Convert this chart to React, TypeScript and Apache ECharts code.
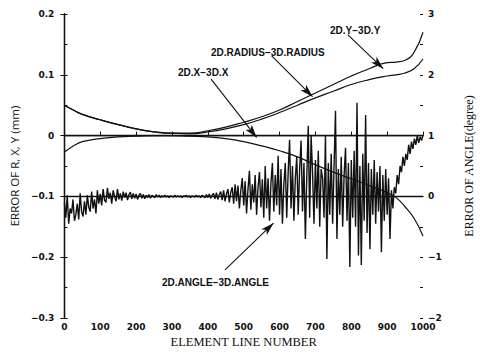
import React, { useEffect, useRef } from "react";
import * as echarts from "echarts";

// Element line numbers where the smooth error curves were read
const curveElems = [0, 25, 50, 100, 150, 200, 250, 300, 350, 400, 450, 500, 550, 600, 650, 700, 750, 800, 850, 900, 925, 950, 975, 1000];
// 2D.Y - 3D.Y (mm)
const yErr = [0.050, 0.042, 0.035, 0.026, 0.018, 0.011, 0.006, 0.004, 0.004, 0.008, 0.014, 0.022, 0.031, 0.042, 0.056, 0.070, 0.084, 0.098, 0.110, 0.120, 0.121, 0.124, 0.137, 0.170];
// 2D.RADIUS - 3D.RADIUS (mm)
const radiusErr = [0.050, 0.042, 0.035, 0.026, 0.018, 0.011, 0.006, 0.004, 0.003, 0.006, 0.011, 0.018, 0.027, 0.038, 0.050, 0.062, 0.073, 0.084, 0.092, 0.098, 0.100, 0.103, 0.110, 0.126];
// 2D.X - 3D.X (mm)
const xErr = [-0.027, -0.017, -0.010, -0.005, -0.002, -0.001, 0, 0, -0.001, -0.002, -0.005, -0.010, -0.017, -0.025, -0.035, -0.048, -0.060, -0.071, -0.082, -0.094, -0.102, -0.117, -0.136, -0.165];

// 2D.ANGLE - 3D.ANGLE (degree), read every 4 element lines from 0 to 1000
const angleStep = 4;
const angleErr = [
  -0.1, -0.35, 0.02, -0.45, -0.2, -0.28, -0.05, -0.4, -0.3, -0.12,
  -0.38, 0.05, -0.25, -0.33, -0.08, -0.3, 0.02, -0.18, -0.25, 0.08,
  -0.2, -0.05, -0.28, 0.1, -0.12, 0.04, -0.15, 0.12, -0.06, -0.1,
  0.14, -0.04, 0.06, -0.12, 0.1, 0.0, -0.08, 0.12, -0.05, 0.05,
  -0.07, 0.08, -0.02, 0.06, -0.06, 0.03, 0.07, -0.04, 0.05, -0.03,
  0.04, -0.05, 0.02, 0.05, -0.03, 0.03, -0.04, 0.02, -0.02, 0.03,
  -0.03, 0.02, 0.0, -0.02, 0.03, -0.01, 0.02, -0.02, 0.01, -0.01,
  0.02, -0.01, 0.01, -0.02, 0.01, 0.0, -0.01, 0.02, -0.01, 0.01,
  -0.01, 0.01, -0.02, 0.01, 0.0, 0.02, -0.01, 0.01, -0.02, 0.01,
  0.0, -0.01, 0.02, -0.01, 0.01, -0.02, 0.02, 0.0, -0.02, 0.03,
  -0.02, 0.04, -0.03, 0.02, 0.05, -0.04, 0.06, -0.05, 0.03, 0.08,
  -0.06, 0.1, -0.08, 0.04, 0.12, -0.1, 0.07, 0.15, -0.12, 0.2,
  -0.08, 0.18, -0.2, 0.1, 0.3, -0.15, 0.25, -0.28, 0.12, 0.42,
  -0.22, 0.2, -0.1, 0.35, -0.3, 0.15, 0.4, -0.18, 0.28, -0.35,
  0.5, -0.2, 0.3, -0.4, 0.22, 0.55, -0.25, 0.35, -0.15, 0.67,
  -0.3, 0.45, -0.45, 0.2, 0.55, -0.35, 0.4, 0.93, -0.2, 0.5,
  -0.4, 0.3, 0.65, -0.3, 0.45, 0.92, -0.25, 0.55, -0.7, 0.35,
  1.16, -0.35, 1.0, 0.4, -0.45, 0.6, -0.2, 0.75, -0.5, 0.45,
  0.3, -0.35, 1.0, -1.03, 0.55, -0.3, 0.7, -0.45, 0.5, 1.41,
  -0.7, 0.45, -0.3, 0.65, -0.5, 0.35, 0.8, -0.4, 0.55, -1.16,
  0.6, -0.35, 0.75, -0.5, 1.54, -0.97, 0.5, -1.13, 0.7, -0.4,
  1.34, -0.6, 0.55, -0.87, 0.45, -0.3, 0.6, -0.45, 0.4, -0.25,
  0.5, -0.92, 0.35, -0.4, 0.45, -0.3, 0.3, -0.7, 0.1, -0.2,
  0.15, 0.05, 0.35, 0.2, 0.5, 0.4, 0.65, 0.5, 0.7, 0.6,
  0.85, 0.7, 0.9, 0.78, 0.95, 0.85, 1.0, 0.88, 0.98, 0.92,
  1.0,
];

// Horizontal reference line at zero error
const zeroLineElems = [0, 1000];
const zeroLineVals = [0, 0];

// Annotation arrows: [start element, start value, tip element, tip value] (left axis units)
const arrowY = [790, 0.166, 889, 0.110];
const arrowRadius = [578, 0.131, 692, 0.064];
const arrowX = [409, 0.093, 536, -0.003];
const arrowAngle = [448, -0.221, 583, -0.144];

const TICK_FONT = '"DejaVu Sans", sans-serif';
const SERIF = '"Liberation Serif", "DejaVu Serif", serif';
const INK = "#111";

const pairs = (xs: number[], ys: number[]) => xs.map((x, i) => [x, ys[i]]);
const fmtMinus = (v: number, digits: number) => {
  if (Math.abs(v) < 1e-9) return "0";
  const s = Math.abs(v).toFixed(digits);
  return (v < 0 ? "\u2212" : "") + s;
};

export default function App() {
  const ref = useRef<HTMLDivElement>(null);

  useEffect(() => {
    document.body.style.margin = "0";
    const chart = echarts.init(ref.current!, undefined, { renderer: "svg" });

    const arrowPair = (a: number[]) => [
      { coord: [a[0], a[1]], symbol: "none" },
      { coord: [a[2], a[3]], symbol: "arrow", symbolSize: [6, 13] },
    ];

    const lineSeries = (name: string, data: number[][], yAxisIndex: number, width: number, smooth: boolean) => ({
      name,
      type: "line",
      xAxisIndex: 0,
      yAxisIndex,
      data,
      showSymbol: false,
      symbol: "none",
      smooth,
      lineStyle: { color: INK, width },
      z: 3,
    });

    const angleData = angleErr.map((v, i) => [i * angleStep, v]);

    chart.setOption({
      animation: false,
      backgroundColor: "#fff",
      grid: { left: 55, right: 42, top: 14, bottom: 36 },
      xAxis: [
        {
          type: "value",
          position: "bottom",
          min: 0,
          max: 1000,
          interval: 100,
          axisLine: { show: true, lineStyle: { color: INK, width: 1.3 } },
          axisTick: { show: true, inside: true, length: 4, lineStyle: { color: INK } },
          axisLabel: { color: INK, fontFamily: TICK_FONT, fontWeight: "bold", fontSize: 9, margin: 4, formatter: (v: number) => String(v) },
          splitLine: { show: false },
          name: "ELEMENT LINE NUMBER",
          nameLocation: "middle",
          nameGap: 15,
          nameTextStyle: { color: INK, fontFamily: SERIF, fontSize: 12.5 },
        },
        {
          type: "value",
          position: "top",
          min: 0,
          max: 1000,
          axisLine: { show: true, lineStyle: { color: INK, width: 1.3 } },
          axisTick: { show: false },
          axisLabel: { show: false },
          splitLine: { show: false },
        },
      ],
      yAxis: [
        {
          type: "value",
          position: "left",
          min: -0.3,
          max: 0.2,
          interval: 0.1,
          axisLine: { show: true, lineStyle: { color: INK, width: 1.3 } },
          axisTick: { show: true, inside: false, length: 4, lineStyle: { color: INK } },
          axisLabel: {
            color: INK,
            fontFamily: TICK_FONT,
            fontWeight: "bold",
            fontSize: 9,
            margin: 10,
            formatter: (v: number) => fmtMinus(v, 1),
          },
          splitLine: { show: false },
          name: "ERROR OF R, X, Y (mm)",
          nameLocation: "middle",
          nameGap: 43,
          nameRotate: 90,
          nameTextStyle: { color: INK, fontFamily: '"Open Sans", "DejaVu Sans", sans-serif', fontSize: 11.5 },
        },
        {
          type: "value",
          position: "right",
          min: -2,
          max: 3,
          interval: 1,
          axisLine: { show: true, lineStyle: { color: INK, width: 1.3 } },
          axisTick: { show: true, inside: false, length: 3, lineStyle: { color: INK } },
          axisLabel: {
            color: INK,
            fontFamily: TICK_FONT,
            fontWeight: "bold",
            fontSize: 9,
            margin: 5,
            formatter: (v: number) => fmtMinus(v, 0),
          },
          splitLine: { show: false },
          name: "ERROR OF ANGLE(degree)",
          nameLocation: "middle",
          nameGap: 40,
          nameRotate: 90,
          nameTextStyle: { color: INK, fontFamily: SERIF, fontSize: 12 },
        },
        {
          type: "value",
          position: "left",
          min: -0.3,
          max: 0.2,
          interval: 0.05,
          axisLine: { show: false },
          axisTick: { show: true, inside: true, length: 3, lineStyle: { color: INK } },
          axisLabel: { show: false },
          splitLine: { show: false },
        },
        {
          type: "value",
          position: "right",
          min: -2,
          max: 3,
          interval: 0.5,
          axisLine: { show: false },
          axisTick: { show: true, inside: true, length: 3, lineStyle: { color: INK } },
          axisLabel: { show: false },
          splitLine: { show: false },
        },
      ],
      series: [
        lineSeries("zero", pairs(zeroLineElems, zeroLineVals), 0, 1.2, false),
        lineSeries("2D.X-3D.X", pairs(curveElems, xErr), 0, 1.2, true),
        lineSeries("2D.RADIUS-3D.RADIUS", pairs(curveElems, radiusErr), 0, 1.2, true),
        {
          ...lineSeries("2D.Y-3D.Y", pairs(curveElems, yErr), 0, 1.2, true),
          markLine: {
            silent: true,
            animation: false,
            label: { show: false },
            lineStyle: { color: INK, width: 1.1, type: "solid" },
            data: [arrowPair(arrowY), arrowPair(arrowRadius), arrowPair(arrowX), arrowPair(arrowAngle)],
          },
        },
        lineSeries("2D.ANGLE-3D.ANGLE", angleData, 1, 1.4, false),
      ],
      graphic: [
        { type: "text", x: 330, y: 30, style: { text: "2D.Y\u22123D.Y", font: 'bold 10px "Liberation Sans", sans-serif', fill: INK, verticalAlign: "middle" } },
        { type: "text", x: 211, y: 52, style: { text: "2D.RADIUS\u22123D.RADIUS", font: 'bold 10px "Liberation Sans", sans-serif', fill: INK, verticalAlign: "middle" } },
        { type: "text", x: 178, y: 72, style: { text: "2D.X\u22123D.X", font: 'bold 10px "Liberation Sans", sans-serif', fill: INK, verticalAlign: "middle" } },
        { type: "text", x: 162, y: 282, style: { text: "2D.ANGLE\u22123D.ANGLE", font: 'bold 10px "Liberation Sans", sans-serif', fill: INK, verticalAlign: "middle" } },
      ],
    });

    return () => chart.dispose();
  }, []);

  return <div ref={ref} style={{ width: 483, height: 354 }} />;
}
